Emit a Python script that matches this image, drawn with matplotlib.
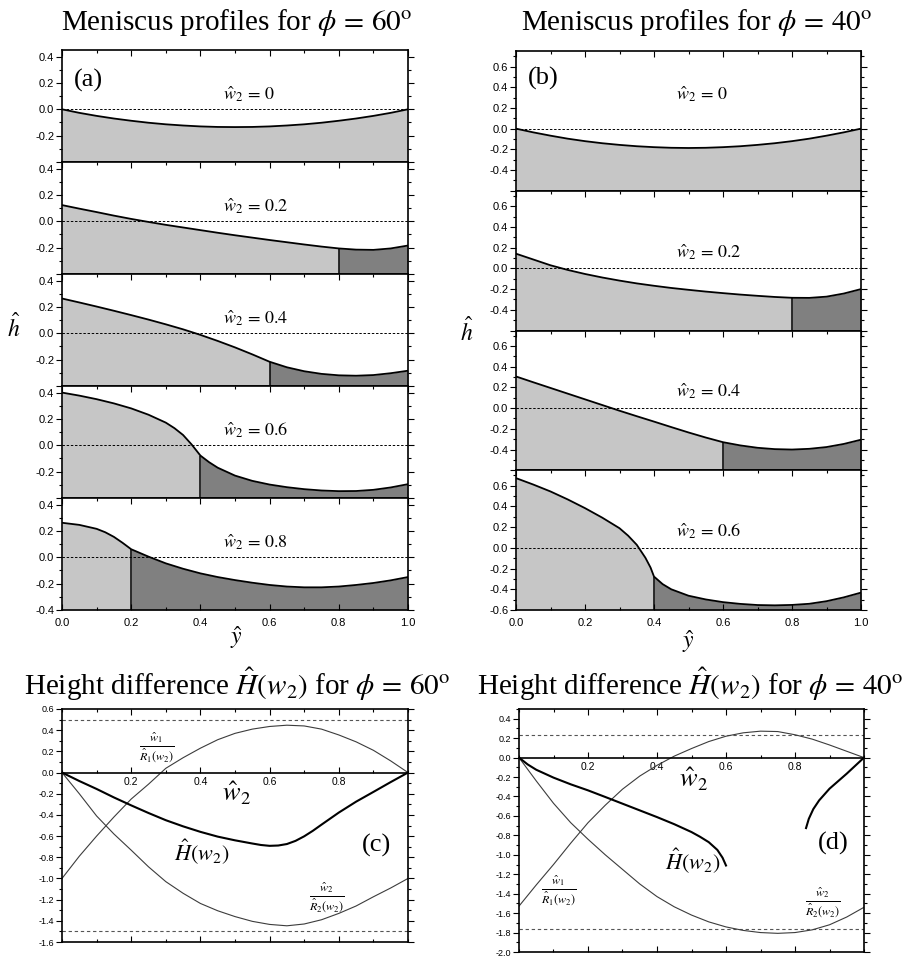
import numpy as np
import matplotlib
matplotlib.use('Agg')
import matplotlib.pyplot as plt
from matplotlib.ticker import MultipleLocator, FormatStrFormatter

plt.rcParams['font.family'] = ['Liberation Sans', 'DejaVu Sans']
plt.rcParams['mathtext.fontset'] = 'stix'
SERIF = 'Liberation Serif'

W, H, DPI = 909, 956, 100
LIGHT = '#c6c6c6'
DARK = '#808080'
THIN = '#3c3c3c'

# ── meniscus profiles, phi = 60 deg ──────────────────────────────────────────
y_std = [0.00, 0.05, 0.10, 0.15, 0.20, 0.25, 0.30, 0.35, 0.40, 0.45, 0.50,
         0.55, 0.60, 0.65, 0.70, 0.75, 0.80, 0.85, 0.90, 0.95, 1.00]

w2_60 = [0.0, 0.2, 0.4, 0.6, 0.8]
h60_w0 = [0.000, -0.027, -0.050, -0.070, -0.087, -0.102, -0.114, -0.123, -0.130, -0.134, -0.135,
          -0.134, -0.130, -0.123, -0.114, -0.102, -0.087, -0.070, -0.050, -0.027, 0.000]
h60_w2 = [0.123, 0.096, 0.070, 0.043, 0.018, -0.005, -0.027, -0.047, -0.067, -0.087, -0.106,
          -0.124, -0.142, -0.159, -0.176, -0.192, -0.206, -0.215, -0.217, -0.206, -0.184]
h60_w4 = [0.264, 0.234, 0.203, 0.171, 0.138, 0.104, 0.068, 0.030, -0.012, -0.058, -0.107,
          -0.160, -0.216, -0.258, -0.288, -0.308, -0.319, -0.322, -0.317, -0.303, -0.284]
y60_w6 = [0.00, 0.05, 0.10, 0.15, 0.20, 0.25, 0.30, 0.325, 0.35, 0.375, 0.40, 0.425, 0.45,
          0.50, 0.55, 0.60, 0.65, 0.70, 0.75, 0.80, 0.85, 0.90, 0.95, 1.00]
h60_w6 = [0.400, 0.377, 0.350, 0.318, 0.280, 0.232, 0.172, 0.130, 0.078, 0.005, -0.078, -0.128,
          -0.170, -0.230, -0.270, -0.298, -0.318, -0.333, -0.343, -0.348, -0.347, -0.338,
          -0.320, -0.295]
y60_w8 = [0.00, 0.05, 0.10, 0.125, 0.15, 0.175, 0.20, 0.25, 0.30, 0.35, 0.40, 0.45, 0.50,
          0.55, 0.60, 0.65, 0.70, 0.75, 0.80, 0.85, 0.90, 0.95, 1.00]
h60_w8 = [0.262, 0.246, 0.216, 0.190, 0.155, 0.110, 0.061, 0.005, -0.046, -0.087, -0.122,
          -0.150, -0.173, -0.193, -0.210, -0.222, -0.228, -0.228, -0.222, -0.210, -0.195,
          -0.175, -0.150]
y60 = [y_std, y_std, y_std, y60_w6, y60_w8]
h60 = [h60_w0, h60_w2, h60_w4, h60_w6, h60_w8]

# ── meniscus profiles, phi = 40 deg ──────────────────────────────────────────
w2_40 = [0.0, 0.2, 0.4, 0.6]
h40_w0 = [0.000, -0.036, -0.068, -0.097, -0.121, -0.141, -0.157, -0.170, -0.179, -0.185, -0.187,
          -0.185, -0.179, -0.170, -0.157, -0.141, -0.121, -0.097, -0.068, -0.036, 0.000]
h40_w2 = [0.142, 0.086, 0.030, -0.015, -0.054, -0.088, -0.118, -0.145, -0.168, -0.189, -0.207,
          -0.224, -0.239, -0.253, -0.265, -0.276, -0.284, -0.285, -0.273, -0.243, -0.200]
h40_w4 = [0.306, 0.250, 0.195, 0.140, 0.085, 0.030, -0.025, -0.078, -0.130, -0.183, -0.235,
          -0.284, -0.329, -0.360, -0.383, -0.396, -0.400, -0.393, -0.376, -0.346, -0.305]
y40_w6 = [0.00, 0.05, 0.10, 0.15, 0.20, 0.25, 0.30, 0.325, 0.35, 0.375, 0.39, 0.40, 0.425,
          0.45, 0.50, 0.55, 0.60, 0.65, 0.70, 0.75, 0.80, 0.85, 0.90, 0.95, 1.00]
h40_w6 = [0.674, 0.612, 0.545, 0.468, 0.384, 0.292, 0.190, 0.118, 0.030, -0.095, -0.190, -0.277,
          -0.350, -0.400, -0.462, -0.498, -0.524, -0.541, -0.552, -0.555, -0.551, -0.540,
          -0.515, -0.478, -0.432]
y40 = [y_std, y_std, y_std, y40_w6]
h40 = [h40_w0, h40_w2, h40_w4, h40_w6]

# ── height difference and curvature terms ───────────────────────────────────
w2_grid = y_std
w2_H60 = [0.00, 0.05, 0.10, 0.15, 0.20, 0.25, 0.30, 0.35, 0.40, 0.45, 0.50, 0.55, 0.575,
          0.60, 0.625, 0.65, 0.675, 0.70, 0.725, 0.75, 0.80, 0.85, 0.90, 0.95, 1.00]
H60 = [0.000, -0.080, -0.155, -0.235, -0.310, -0.382, -0.450, -0.508, -0.560, -0.605, -0.640,
       -0.670, -0.684, -0.692, -0.689, -0.675, -0.645, -0.602, -0.550, -0.492, -0.378,
       -0.275, -0.183, -0.090, 0.000]
R1_60 = [-1.000, -0.790, -0.600, -0.420, -0.250, -0.110, 0.040, 0.140, 0.230, 0.310, 0.370,
         0.410, 0.435, 0.447, 0.440, 0.410, 0.355, 0.290, 0.210, 0.110, 0.000]
R2_60 = [0.000, -0.200, -0.410, -0.580, -0.733, -0.890, -1.030, -1.140, -1.236, -1.305, -1.360,
         -1.405, -1.434, -1.447, -1.430, -1.390, -1.330, -1.260, -1.173, -1.090, -1.000]
lim60 = [0.5, -1.5]

R1_40 = [-1.528, -1.310, -1.100, -0.880, -0.670, -0.490, -0.325, -0.190, -0.080, 0.015, 0.093,
         0.165, 0.220, 0.255, 0.272, 0.268, 0.235, 0.190, 0.130, 0.065, 0.000]
R2_40 = [0.000, -0.240, -0.470, -0.670, -0.840, -1.000, -1.150, -1.300, -1.430, -1.535, -1.620,
         -1.690, -1.742, -1.778, -1.800, -1.808, -1.800, -1.772, -1.720, -1.640, -1.540]
w2_H40a = [0.0, 0.025, 0.05, 0.10, 0.15, 0.20, 0.25, 0.30, 0.35, 0.40, 0.45, 0.50, 0.525,
           0.55, 0.575, 0.59, 0.60]
H40a = [0.000, -0.070, -0.125, -0.206, -0.275, -0.337, -0.405, -0.474, -0.543, -0.612, -0.685,
        -0.766, -0.815, -0.870, -0.950, -1.030, -1.110]
w2_H40b = [0.832, 0.840, 0.853, 0.870, 0.900, 0.950, 1.000]
H40b = [-0.725, -0.630, -0.530, -0.440, -0.320, -0.165, 0.000]
lim40 = [0.23, -1.765]

fig = plt.figure(figsize=(W / DPI, H / DPI), dpi=DPI, facecolor='white')


def add_ax(x0, y0, x1, y1):
    """Axes from pixel box (top-left origin)."""
    return fig.add_axes([x0 / W, 1 - y1 / H, (x1 - x0) / W, (y1 - y0) / H])


def ftext(x, y, s, **kw):
    fig.text(x / W, 1 - y / H, s, **kw)


def style_profile(ax, ylo, yhi, yticks, last):
    ax.set_xlim(0, 1)
    ax.set_ylim(ylo, yhi)
    ax.xaxis.set_major_locator(MultipleLocator(0.2))
    ax.xaxis.set_minor_locator(MultipleLocator(0.1))
    ax.xaxis.set_major_formatter(FormatStrFormatter('%.1f'))
    ax.set_yticks(yticks)
    labels = [f'{t:.1f}' for t in yticks]
    if not last:
        labels[0] = ''
    ax.set_yticklabels(labels)
    ax.yaxis.set_minor_locator(MultipleLocator(0.1))
    ax.tick_params(axis='y', which='both', direction='out', left=True, right=True,
                   labelsize=8, pad=1.5)
    ax.tick_params(axis='x', which='both', direction='in', top=True, bottom=last,
                   labelbottom=last, labelsize=8, pad=6)
    ax.tick_params(which='major', length=4, width=0.8)
    ax.tick_params(which='minor', length=2, width=0.8)
    for sp in ax.spines.values():
        sp.set_linewidth(1.2)


def draw_profile(ax, y, h, w2, ylo, label_h):
    y = np.asarray(y)
    h = np.asarray(h)
    cut = 1 - w2
    left = y <= cut + 1e-9
    ax.fill_between(y[left], ylo, h[left], color=LIGHT, lw=0)
    if w2 > 0:
        right = y >= cut - 1e-9
        ax.fill_between(y[right], ylo, h[right], color=DARK, lw=0)
        h_cut = h[np.isclose(y, cut)][0]
        ax.vlines(cut, ylo, h_cut, color='k', lw=1.1)
    ax.plot(y, h, color='k', lw=1.3)
    ax.axhline(0, color='k', lw=0.7, ls=(0, (2.5, 1.8)))
    ax.text(0.464, label_h, rf'$\hat{{w}}_2\,=\,{w2:g}$',
            fontsize=13, ha='left', va='center')


# ── (a) phi = 60 ──────────────────────────────────────────────────────────────
top, bot = 50, 610
step = (bot - top) / len(w2_60)
for i, (w2, yy, hh) in enumerate(zip(w2_60, y60, h60)):
    ax = add_ax(62, top + i * step, 408, top + (i + 1) * step)
    last = i == len(w2_60) - 1
    draw_profile(ax, yy, hh, w2, -0.4, 0.115)
    style_profile(ax, -0.4, 0.45, [-0.4, -0.2, 0.0, 0.2, 0.4], last)
    if i == 0:
        ax.text(0.075, 0.73, '(a)', transform=ax.transAxes, fontsize=19,
                fontfamily=SERIF, ha='center', va='center')

# ── (b) phi = 40 ──────────────────────────────────────────────────────────────
top, bot = 51, 610
step = (bot - top) / len(w2_40)
for i, (w2, yy, hh) in enumerate(zip(w2_40, y40, h40)):
    ax = add_ax(516, top + i * step, 861, top + (i + 1) * step)
    last = i == len(w2_40) - 1
    draw_profile(ax, yy, hh, w2, -0.6, 0.33 if i == 0 else 0.16)
    style_profile(ax, -0.6, 0.75, [-0.6, -0.4, -0.2, 0.0, 0.2, 0.4, 0.6], last)
    if i == 0:
        ax.text(0.078, 0.8, '(b)', transform=ax.transAxes, fontsize=19,
                fontfamily=SERIF, ha='center', va='center')

ftext(237, 22, r'Meniscus profiles for $\phi\,=\,60^{\mathrm{o}}$', fontsize=21,
      fontfamily=SERIF, ha='center', va='center')
ftext(697, 22, r'Meniscus profiles for $\phi\,=\,40^{\mathrm{o}}$', fontsize=21,
      fontfamily=SERIF, ha='center', va='center')
ftext(14, 328, r'$\hat{h}$', fontsize=17, ha='center', va='center')
ftext(467, 332, r'$\hat{h}$', fontsize=17, ha='center', va='center')
ftext(236, 638, r'$\hat{y}$', fontsize=17, ha='center', va='center')
ftext(688, 642, r'$\hat{y}$', fontsize=17, ha='center', va='center')


# ── (c), (d) height difference ───────────────────────────────────────────────
def style_height(ax, ylo, yhi):
    ax.set_xlim(0, 1)
    ax.set_ylim(ylo, yhi)
    ax.spines['bottom'].set_position(('data', 0))
    ax.set_xticks([0.2, 0.4, 0.6, 0.8])
    ax.xaxis.set_minor_locator(MultipleLocator(0.1))
    ax.yaxis.set_major_locator(MultipleLocator(0.2))
    ax.yaxis.set_minor_locator(MultipleLocator(0.1))
    ax.yaxis.set_major_formatter(FormatStrFormatter('%.1f'))
    ax.tick_params(axis='y', which='both', direction='out', left=True, right=True,
                   labelsize=6.5, pad=1.5)
    ax.tick_params(axis='x', which='both', direction='in', top=True, labelsize=7.5, pad=3)
    ax.tick_params(which='major', length=4, width=0.8)
    ax.tick_params(which='minor', length=2, width=0.8)
    sec = ax.secondary_xaxis(0.0)
    sec.set_xticks([0.2, 0.4, 0.6, 0.8])
    sec.xaxis.set_minor_locator(MultipleLocator(0.1))
    sec.tick_params(which='both', direction='in', labelbottom=False)
    sec.tick_params(which='major', length=4, width=0.8)
    sec.tick_params(which='minor', length=2, width=0.8)
    sec.spines['bottom'].set_linewidth(1.2)
    for sp in ax.spines.values():
        sp.set_linewidth(1.2)


frac1 = r'$\frac{\hat{w}_1}{\hat{R}_1(w_2)}$'
frac2 = r'$\frac{\hat{w}_2}{\hat{R}_2(w_2)}$'
Hlab = r'$\hat{H}\left(w_2\right)$'

ax = add_ax(62, 709, 408, 942)
for v in lim60:
    ax.axhline(v, color='#555555', lw=0.8, ls=(0, (3, 2.5)))
ax.plot(w2_grid, R1_60, color=THIN, lw=0.8)
ax.plot(w2_grid, R2_60, color=THIN, lw=0.8)
ax.plot(w2_H60, H60, color='k', lw=1.5)
style_height(ax, -1.6, 0.6)
ax.text(0.273, 0.23, frac1, fontsize=12.5, ha='center', va='center')
ax.text(0.764, -1.18, frac2, fontsize=12.5, ha='center', va='center')
ax.text(0.403, -0.75, Hlab, fontsize=16, ha='center', va='center')
ax.text(0.505, -0.2, r'$\hat{w}_2$', fontsize=19, ha='center', va='center')
ax.text(0.909, -0.69, '(c)', fontsize=19, fontfamily=SERIF, ha='center', va='center')

ax = add_ax(519, 709, 864, 952)
for v in lim40:
    ax.axhline(v, color='#555555', lw=0.8, ls=(0, (3, 2.5)))
ax.plot(w2_grid, R1_40, color=THIN, lw=0.8)
ax.plot(w2_grid, R2_40, color=THIN, lw=0.8)
ax.plot(w2_H40a, H40a, color='k', lw=1.5)
ax.plot(w2_H40b, H40b, color='k', lw=1.5)
style_height(ax, -2.0, 0.5)
ax.text(0.116, -1.37, frac1, fontsize=12.5, ha='center', va='center')
ax.text(0.882, -1.50, frac2, fontsize=12.5, ha='center', va='center')
ax.text(0.505, -1.06, Hlab, fontsize=16, ha='center', va='center')
ax.text(0.506, -0.22, r'$\hat{w}_2$', fontsize=19, ha='center', va='center')
ax.text(0.911, -0.88, '(d)', fontsize=19, fontfamily=SERIF, ha='center', va='center')

ftext(237, 684, r'Height difference $\hat{H}\left(w_2\right)$ for $\phi\,=\,60^{\mathrm{o}}$',
      fontsize=21, fontfamily=SERIF, ha='center', va='center')
ftext(690, 684, r'Height difference $\hat{H}\left(w_2\right)$ for $\phi\,=\,40^{\mathrm{o}}$',
      fontsize=21, fontfamily=SERIF, ha='center', va='center')

fig.savefig('out.png', dpi=DPI, facecolor='white')
